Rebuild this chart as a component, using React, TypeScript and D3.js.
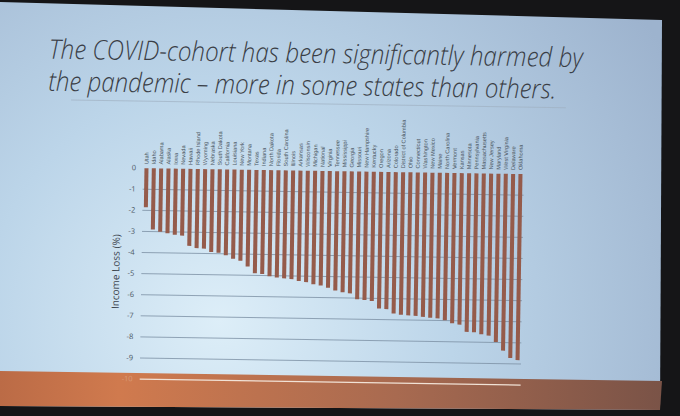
import React from "react";
import * as d3 from "d3";

// states ordered as on the slide, smallest loss first
const states = [
    "Utah", "Idaho", "Alabama", "Alaska", "Iowa", "Nevada", "Hawaii", "Rhode Island",
    "Wyoming", "Nebraska", "South Dakota", "California", "Louisiana", "New York", "Montana",
    "Texas", "Indiana", "North Dakota", "Florida", "South Carolina", "Illinois", "Arkansas",
    "Wisconsin", "Michigan", "National", "Virginia", "Tennessee", "Mississippi", "Georgia",
    "Missouri", "New Hampshire", "Kentucky", "Oregon", "Arizona", "Colorado",
    "District of Columbia", "Ohio", "Connecticut", "Washington", "New Mexico", "Maine",
    "North Carolina", "Vermont", "Kansas", "Minnesota", "Pennsylvania", "Massachusetts",
    "New Jersey", "Maryland", "West Virginia", "Delaware", "Oklahoma",
];

// income loss (%)
const incomeLoss = [
    -1.85, -2.9, -3.0, -3.07, -3.13, -3.17, -3.65, -3.75,
    -3.77, -3.92, -3.95, -4.07, -4.23, -4.32, -4.58,
    -4.9, -4.93, -5.03, -5.08, -5.12, -5.15, -5.23,
    -5.28, -5.38, -5.43, -5.53, -5.66, -5.73, -5.78,
    -6.05, -6.08, -6.13, -6.48, -6.5, -6.7,
    -6.76, -6.78, -6.8, -6.84, -6.88, -6.9,
    -6.98, -7.12, -7.18, -7.52, -7.53, -7.62,
    -7.68, -7.98, -8.38, -8.72, -8.82,
];

const yTicks = [0, -1, -2, -3, -4, -5, -6, -7, -8, -9, -10];

const titleLines = [
    "The COVID-cohort has been significantly harmed by",
    "the pandemic \u2013 more in some states than others.",
];

const W = 680;
const H = 416;

const App: React.FC = () => {
    const x = d3
        .scaleBand<string>()
        .domain(states)
        .range([143, 524])
        .paddingInner(0.45)
        .paddingOuter(0.2);
    const y = d3.scaleLinear().domain([0, -10]).range([168, 379]);

    return (
        <svg
            width={W}
            height={H}
            style={{ position: "fixed", left: 0, top: 0 }}
        >
            <defs>
                <radialGradient id="slideBg" cx="220" cy="320" r="520" gradientUnits="userSpaceOnUse">
                    <stop offset="0" stopColor="#ddeef8" />
                    <stop offset="0.45" stopColor="#bcd5e9" />
                    <stop offset="1" stopColor="#9db3ce" />
                </radialGradient>
                <linearGradient id="band" x1="0" x2="1" y1="0" y2="0">
                    <stop offset="0" stopColor="#bb6b46" />
                    <stop offset="0.18" stopColor="#d07a4e" />
                    <stop offset="0.6" stopColor="#a86a50" />
                    <stop offset="1" stopColor="#7a5347" />
                </linearGradient>
            </defs>

            {/* room + projected slide */}
            <rect width={W} height={H} fill="#151517" />
            <polygon points="0,2 662,20 660,410 0,406" fill="url(#slideBg)" />
            <polygon points="0,371 662,381 660,410 0,406" fill="url(#band)" />

            <g transform="rotate(0.9, 135, 168)">
                {/* title */}
                {titleLines.map((t, i) => (
                    <text
                        key={i}
                        x={47}
                        y={60 + i * 32}
                        fontFamily="'Open Sans', sans-serif"
                        fontStyle="italic"
                        fontWeight={300}
                        fontSize={27}
                        fill="#3a3e46"
                        textLength={i === 0 ? 534 : 508}
                        lengthAdjust="spacingAndGlyphs"
                    >
                        {t}
                    </text>
                ))}
                <line x1={70} x2={565} y1={101} y2={101} stroke="#9fb1c2" strokeWidth={0.7} />

                {/* grid + y ticks */}
                {yTicks.map((t) => (
                    <g key={t}>
                        {t !== 0 && (
                            <line
                                x1={143}
                                x2={524}
                                y1={y(t)}
                                y2={y(t)}
                                stroke={t === -10 ? "#f1e2d6" : "#7d90a4"}
                                strokeWidth={t === -10 ? 1.3 : 0.8}
                            />
                        )}
                        <text
                            x={136}
                            y={y(t)}
                            dy="0.32em"
                            textAnchor="end"
                            fontFamily="'Open Sans', sans-serif"
                            fontSize={7.5}
                            fill={t === -10 ? "#d99a78" : "#4a5662"}
                        >
                            {t}
                        </text>
                    </g>
                ))}

                {/* y axis title */}
                <text
                    transform={`translate(121, 272) rotate(-90)`}
                    textAnchor="middle"
                    fontFamily="'Open Sans', sans-serif"
                    fontSize={10}
                    fill="#3d4650"
                >
                    Income Loss (%)
                </text>

                {/* bars */}
                {states.map((s, i) => (
                    <rect
                        key={s}
                        x={x(s)}
                        y={y(0)}
                        width={x.bandwidth()}
                        height={y(incomeLoss[i]) - y(0)}
                        fill="#955b4b"
                    />
                ))}

                {/* state labels */}
                {states.map((s) => (
                    <text
                        key={s}
                        transform={`translate(${(x(s) ?? 0) + x.bandwidth() / 2 + 1.9}, 164) rotate(-90)`}
                        fontFamily="'Liberation Sans Narrow', 'Liberation Sans', sans-serif"
                        fontSize={5.6}
                        fill="#4c5763"
                    >
                        {s}
                    </text>
                ))}
            </g>
        </svg>
    );
};

export default App;
